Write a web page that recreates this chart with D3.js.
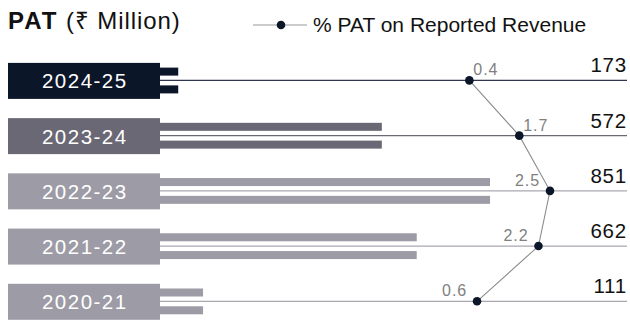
<!DOCTYPE html>
<html>
<head>
<meta charset="utf-8">
<script src="https://cdn.jsdelivr.net/npm/d3@7"></script>
<style>
  html, body { margin: 0; padding: 0; background: #ffffff; }
  svg { display: block; font-family: "Liberation Sans", Arial, Helvetica, sans-serif; }
</style>
</head>
<body>
<script>
// ---- Data ----
const years = ["2024-25", "2023-24", "2022-23", "2021-22", "2020-21"];
const patValues = [173, 572, 851, 662, 111];          // PAT (₹ Million), value labels
const barValues = [47, 572, 851, 662, 111];           // bar lengths as drawn in the reference
const pctValues = [0.4, 1.7, 2.5, 2.2, 0.6];          // % PAT on Reported Revenue
const titleBold = "PAT";
const titleRest = " (₹ Million)";
const legendLabel = "% PAT on Reported Revenue";

// ---- Layout ----
const W = 630, H = 322;
const svg = d3.select("body").append("svg").attr("width", W).attr("height", H);

const boxLeft = 8, boxRight = 160, lineRight = 627;

const y = d3.scaleBand().domain(years).range([62.9, 319.8]).paddingInner(0.348).paddingOuter(0);
const xBar = d3.scaleLinear().domain([0, 1000]).range([boxRight, boxRight + 387.8]);
const xPct = d3.scaleLinear().domain([0, 2.5]).range([454, 550]);

const color = d3.scaleOrdinal().domain(years)
  .range(["#0c1629", "#6b6875", "#9d9ba5", "#9d9ba5", "#9d9ba5"]);
const lineColor = d3.scaleOrdinal().domain(years)
  .range(["#2e3650", "#6b6875", "#a9a7b0", "#a9a7b0", "#a9a7b0"]);

const rows = years.map((yr, i) => ({
  year: yr, pat: patValues[i], bar: barValues[i], pct: pctValues[i], i
}));
const lineY = d => y(d.year) + y.bandwidth() / 2 - 0.5;

// ---- Title ----
const title = svg.append("text").attr("x", boxLeft).attr("y", 28.5)
  .attr("fill", "#111").style("font-size", "24px");
title.append("tspan").text(titleBold).style("font-weight", "bold").style("letter-spacing", "2px");
title.append("tspan").text(titleRest).style("letter-spacing", "0.9px");

// ---- Legend ----
const lg = svg.append("g");
lg.append("line").attr("x1", 253).attr("x2", 307).attr("y1", 25).attr("y2", 25)
  .attr("stroke", "#9a9a9a").attr("stroke-width", 1.2);
lg.append("circle").attr("cx", 281).attr("cy", 25).attr("r", 4.3).attr("fill", "#0c1629");
lg.append("text").attr("x", 313).attr("y", 32).text(legendLabel)
  .attr("fill", "#111").style("font-size", "21px");

// ---- Rows ----
const g = svg.append("g");
const row = g.selectAll("g.row").data(rows).join("g").attr("class", "row");

// horizontal guide line
row.append("line")
  .attr("x1", boxRight).attr("x2", lineRight)
  .attr("y1", lineY).attr("y2", lineY)
  .attr("stroke", d => lineColor(d.year)).attr("stroke-width", 1.3);

// double bars
row.append("rect")
  .attr("x", xBar(0)).attr("width", d => xBar(d.bar) - xBar(0))
  .attr("y", d => lineY(d) - 4.8 - 8).attr("height", 8)
  .attr("fill", d => color(d.year));
row.append("rect")
  .attr("x", xBar(0)).attr("width", d => xBar(d.bar) - xBar(0))
  .attr("y", d => lineY(d) + 5).attr("height", 8)
  .attr("fill", d => color(d.year));

// year label boxes
row.append("rect")
  .attr("x", boxLeft).attr("width", boxRight - boxLeft)
  .attr("y", d => y(d.year)).attr("height", y.bandwidth())
  .attr("fill", d => color(d.year));
row.append("text")
  .attr("x", (boxLeft + boxRight) / 2 + 0.8)
  .attr("y", d => y(d.year) + y.bandwidth() / 2 + 7.5)
  .attr("text-anchor", "middle")
  .attr("fill", "#ffffff")
  .style("font-size", "20.5px").style("letter-spacing", "1.5px")
  .text(d => d.year);

// value labels
row.append("text")
  .attr("x", lineRight)
  .attr("y", d => lineY(d) - 8)
  .attr("text-anchor", "end")
  .attr("fill", "#111")
  .style("font-size", "20.5px").style("letter-spacing", "0.8px")
  .text(d => d.pat);

// ---- % line ----
const pctLine = d3.line().x(d => xPct(d.pct)).y(d => lineY(d));
g.append("path").datum(rows).attr("d", pctLine)
  .attr("fill", "none").attr("stroke", "#8c8c8c").attr("stroke-width", 1.1);

g.selectAll("circle.pct").data(rows).join("circle").attr("class", "pct")
  .attr("cx", d => xPct(d.pct)).attr("cy", lineY).attr("r", 4.3)
  .attr("fill", "#0c1629");

// label side: toward the next point (last one: away from previous)
const side = d => {
  const n = rows.length;
  if (d.i < n - 1) return rows[d.i + 1].pct >= d.pct ? 1 : -1;
  return rows[d.i - 1].pct >= d.pct ? -1 : 1;
};
g.selectAll("text.pct").data(rows).join("text").attr("class", "pct")
  .attr("x", d => side(d) > 0 ? xPct(d.pct) + 4 : xPct(d.pct) - 10)
  .attr("y", d => lineY(d) - 5)
  .attr("text-anchor", d => side(d) > 0 ? "start" : "end")
  .attr("fill", "#7f7f7f")
  .style("font-size", "16px").style("letter-spacing", "0.9px")
  .text(d => d.pct.toFixed(1));
</script>
</body>
</html>
